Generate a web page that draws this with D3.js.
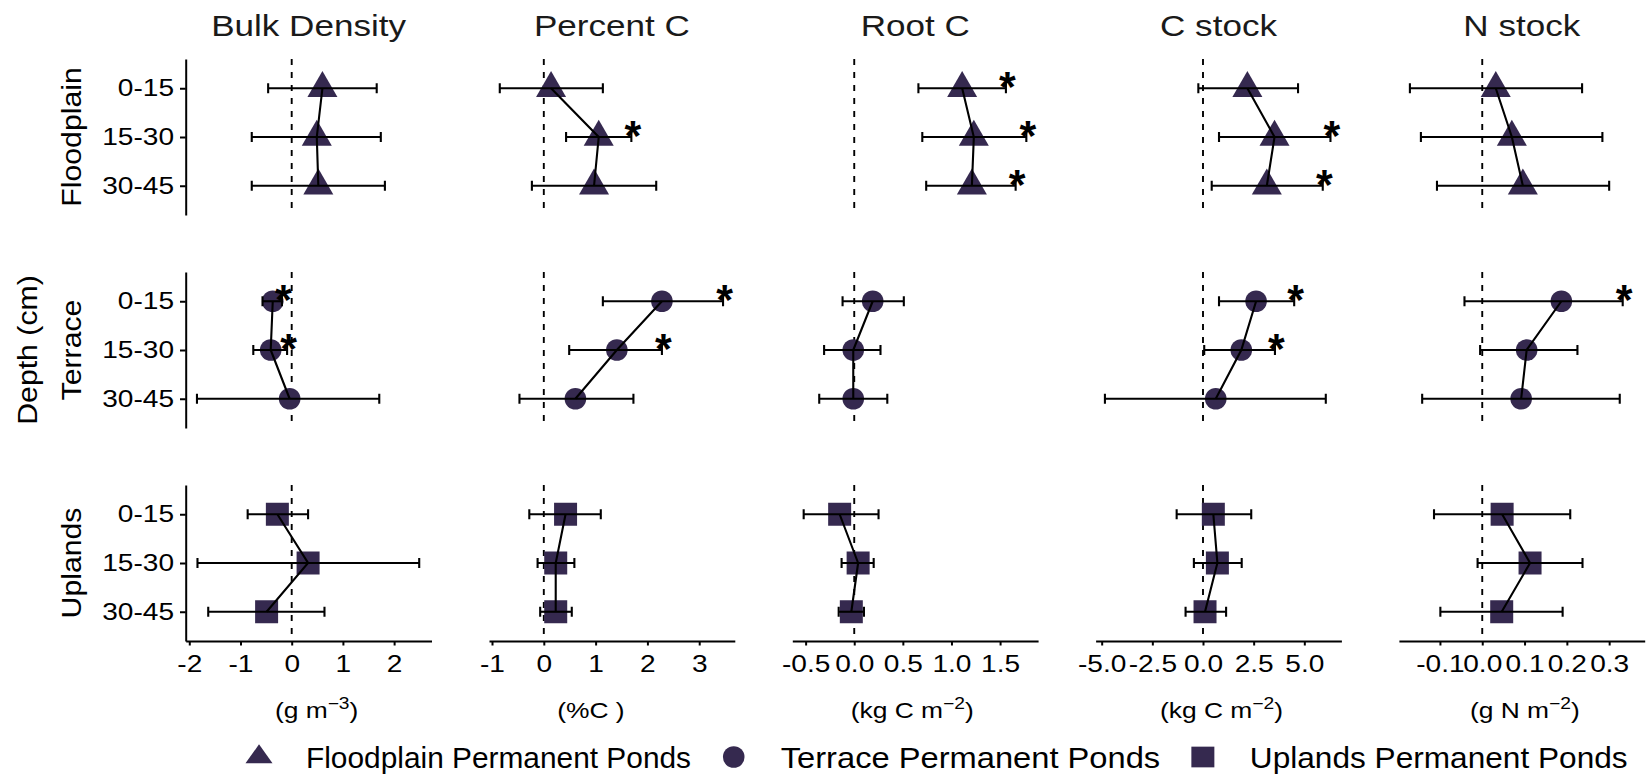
<!DOCTYPE html>
<html>
<head>
<meta charset="utf-8">
<script src="https://cdn.jsdelivr.net/npm/d3@7"></script>
<style>
    body { margin: 0; background: #fff; }
    svg { display: block; }
    text { font-family: "Liberation Sans", Arial, sans-serif; }
</style>
</head>
<body>
<div id="chart"></div>
<script>
// Categories
const depths = ['0-15', '15-30', '30-45'];
const sites = ['Floodplain', 'Terrace', 'Uplands'];
const variables = ['Bulk Density', 'Percent C', 'Root C', 'C stock', 'N stock'];
const legendLabels = ['Floodplain Permanent Ponds', 'Terrace Permanent Ponds', 'Uplands Permanent Ponds'];

// Axis units: [text, superscript, closing]
const units = [
    ['(g m', '\u22123', ')'],
    ['(%C )', '', ''],
    ['(kg C m', '\u22122', ')'],
    ['(kg C m', '\u22122', ')'],
    ['(g N m', '\u22122', ')']
];

// Tick values and axis limits per variable
const xTicks = [
    [-2, -1, 0, 1, 2],
    [-1, 0, 1, 2, 3],
    [-0.5, 0, 0.5, 1, 1.5],
    [-5, -2.5, 0, 2.5, 5],
    [-0.1, 0, 0.1, 0.2, 0.3]
];
const xLimits = [
    [-2.07, 2.73],
    [-1.058, 3.687],
    [-0.637, 1.891],
    [-5.3, 6.83],
    [-0.197, 0.384]
];
const tickDigits = [0, 0, 1, 1, 1];

// Values: site, depth, mean, lower, upper, significant
const bulkDensity = [
    ['Floodplain', '0-15', 0.60, -0.46, 1.66, 0],
    ['Floodplain', '15-30', 0.49, -0.78, 1.74, 0],
    ['Floodplain', '30-45', 0.52, -0.78, 1.82, 0],
    ['Terrace', '0-15', -0.37, -0.57, -0.19, 1],
    ['Terrace', '15-30', -0.41, -0.75, -0.09, 1],
    ['Terrace', '30-45', -0.04, -1.85, 1.71, 0],
    ['Uplands', '0-15', -0.28, -0.86, 0.32, 0],
    ['Uplands', '15-30', 0.32, -1.84, 2.49, 0],
    ['Uplands', '30-45', -0.49, -1.63, 0.64, 0]
];
const percentC = [
    ['Floodplain', '0-15', 0.14, -0.85, 1.14, 0],
    ['Floodplain', '15-30', 1.06, 0.43, 1.69, 1],
    ['Floodplain', '30-45', 0.97, -0.23, 2.17, 0],
    ['Terrace', '0-15', 2.28, 1.14, 3.46, 1],
    ['Terrace', '15-30', 1.41, 0.49, 2.28, 1],
    ['Terrace', '30-45', 0.61, -0.47, 1.73, 0],
    ['Uplands', '0-15', 0.42, -0.28, 1.10, 0],
    ['Uplands', '15-30', 0.23, -0.12, 0.59, 0],
    ['Uplands', '30-45', 0.23, -0.07, 0.54, 0]
];
const rootC = [
    ['Floodplain', '0-15', 1.11, 0.66, 1.56, 1],
    ['Floodplain', '15-30', 1.23, 0.70, 1.77, 1],
    ['Floodplain', '30-45', 1.21, 0.74, 1.66, 1],
    ['Terrace', '0-15', 0.19, -0.12, 0.51, 0],
    ['Terrace', '15-30', -0.01, -0.31, 0.27, 0],
    ['Terrace', '30-45', -0.01, -0.36, 0.34, 0],
    ['Uplands', '0-15', -0.15, -0.52, 0.25, 0],
    ['Uplands', '15-30', 0.04, -0.13, 0.20, 0],
    ['Uplands', '30-45', -0.03, -0.16, 0.10, 0]
];
const cStock = [
    ['Floodplain', '0-15', 2.19, -0.23, 4.69, 0],
    ['Floodplain', '15-30', 3.53, 0.79, 6.29, 1],
    ['Floodplain', '30-45', 3.15, 0.43, 5.91, 1],
    ['Terrace', '0-15', 2.62, 0.79, 4.50, 1],
    ['Terrace', '15-30', 1.89, 0.06, 3.55, 1],
    ['Terrace', '30-45', 0.63, -4.84, 6.06, 0],
    ['Uplands', '0-15', 0.51, -1.30, 2.38, 0],
    ['Uplands', '15-30', 0.71, -0.45, 1.91, 0],
    ['Uplands', '30-45', 0.10, -0.86, 1.14, 0]
];
const nStock = [
    ['Floodplain', '0-15', 0.032, -0.171, 0.236, 0],
    ['Floodplain', '15-30', 0.070, -0.145, 0.284, 0],
    ['Floodplain', '30-45', 0.096, -0.107, 0.300, 0],
    ['Terrace', '0-15', 0.187, -0.042, 0.332, 1],
    ['Terrace', '15-30', 0.105, -0.005, 0.225, 0],
    ['Terrace', '30-45', 0.092, -0.142, 0.325, 0],
    ['Uplands', '0-15', 0.047, -0.114, 0.208, 0],
    ['Uplands', '15-30', 0.113, -0.011, 0.237, 0],
    ['Uplands', '30-45', 0.046, -0.099, 0.190, 0]
];
const datasets = [bulkDensity, percentC, rootC, cStock, nStock];

// Layout
const W = 1652, H = 778;
const fillColor = '#35294f';
const panelW = 245.8, panelH = 156;
const colLeft0 = 185.7, colStep = 303.3;
const rowTops = [59, 272, 485];
const unitShift = [8, -21, -3, 3, 3];   // axis title offset from panel centre
const lineW = 2.1, axisW = 2;

const shapes = [d3.symbolTriangle, d3.symbolCircle, d3.symbolSquare];
const shapeSizes = [390, 366, 529];

const svg = d3.select('#chart').append('svg')
    .attr('width', W)
    .attr('height', H);

const fmtLocale = d3.formatLocale({ decimal: '.', thousands: ',', grouping: [3], currency: ['', ''], minus: '-' });

// Text that is wider than the installed font (the original renders wide)
function addText(parent, x, y, str, size, sx, anchor = 'middle', rot = 0) {
    const g = parent.append('g')
        .attr('transform', `translate(${x},${y}) rotate(${rot}) scale(${sx},1)`);
    return g.append('text')
        .attr('text-anchor', anchor)
        .attr('font-size', size)
        .attr('fill', '#000')
        .text(str);
}

variables.forEach((variable, ci) => {
    const left = colLeft0 + ci * colStep;
    const x = d3.scaleLinear()
        .domain(xLimits[ci])
        .range([left, left + panelW]);

    // Column title
    addText(svg, left + panelW / 2, 36, variable, 29, 1.21).attr('fill', '#1a1a1a');

    sites.forEach((site, ri) => {
        const top = rowTops[ri];
        const y = d3.scalePoint()
            .domain(depths)
            .range([top, top + panelH])
            .padding(0.6);

        const rows = datasets[ci]
            .filter(d => d[0] === site)
            .map(d => ({ depth: d[1], mean: d[2], lo: d[3], hi: d[4], sig: d[5] }));

        const g = svg.append('g').attr('class', 'panel');

        // Zero reference
        g.append('line')
            .attr('x1', x(0)).attr('x2', x(0))
            .attr('y1', top).attr('y2', top + panelH)
            .attr('stroke', '#000')
            .attr('stroke-width', 1.9)
            .attr('stroke-dasharray', '6,7');

        // Points (drawn under bars and path)
        g.selectAll('.pt')
            .data(rows)
            .join('path')
            .attr('class', 'pt')
            .attr('d', d3.symbol(shapes[ri], shapeSizes[ri]))
            .attr('transform', d => `translate(${x(d.mean)},${y(d.depth)})`)
            .attr('fill', fillColor);

        // Connecting path
        g.append('path')
            .datum(rows)
            .attr('d', d3.line().x(d => x(d.mean)).y(d => y(d.depth)))
            .attr('fill', 'none')
            .attr('stroke', '#000')
            .attr('stroke-width', lineW);

        // Error bars
        const bars = g.selectAll('.err')
            .data(rows)
            .join('g')
            .attr('class', 'err')
            .attr('stroke', '#000')
            .attr('stroke-width', lineW);
        bars.append('line')
            .attr('x1', d => x(d.lo)).attr('x2', d => x(d.hi))
            .attr('y1', d => y(d.depth)).attr('y2', d => y(d.depth));
        bars.append('line')
            .attr('x1', d => x(d.lo)).attr('x2', d => x(d.lo))
            .attr('y1', d => y(d.depth) - 5).attr('y2', d => y(d.depth) + 5);
        bars.append('line')
            .attr('x1', d => x(d.hi)).attr('x2', d => x(d.hi))
            .attr('y1', d => y(d.depth) - 5).attr('y2', d => y(d.depth) + 5);

        // Significance stars
        g.selectAll('.star')
            .data(rows.filter(d => d.sig))
            .join('text')
            .attr('class', 'star')
            .attr('x', d => x(d.hi) + 1.5)
            .attr('y', d => y(d.depth) + 13)
            .attr('text-anchor', 'middle')
            .attr('font-size', 43)
            .attr('font-weight', 'bold')
            .text('*');

        // Left axis only on first column
        if (ci === 0) {
            const ya = g.append('g')
                .attr('transform', `translate(${left},0)`)
                .call(d3.axisLeft(y).tickSize(5.7).tickPadding(6).tickSizeOuter(0));
            ya.select('.domain').attr('stroke-width', axisW);
            ya.selectAll('.tick line').attr('stroke-width', axisW);
            ya.selectAll('text')
                .attr('font-size', 24)
                .attr('font-family', '"Liberation Sans", Arial, sans-serif')
                .attr('fill', '#000')
                .attr('x', -10)
                .attr('transform', 'scale(1.17,1)');

            // Site strip label
            addText(svg, 81, top + panelH / 2, site, 27, 1.12, 'middle', -90);
        }

        // Bottom axis only on last row
        if (ri === sites.length - 1) {
            const fmt = fmtLocale.format(`.${tickDigits[ci]}f`);
            const xa = g.append('g')
                .attr('transform', `translate(0,${top + panelH})`)
                .call(d3.axisBottom(x).tickValues(xTicks[ci]).tickFormat(fmt)
                    .tickSize(4.5).tickPadding(9.2).tickSizeOuter(0));
            xa.select('.domain').attr('stroke-width', axisW);
            xa.selectAll('.tick line').attr('stroke-width', axisW);
            xa.selectAll('text')
                .attr('font-size', 24)
                .attr('font-family', '"Liberation Sans", Arial, sans-serif')
                .attr('fill', '#000')
                .attr('transform', 'scale(1.17,1)');
        }
    });

    // Axis unit title
    const u = units[ci];
    const t = addText(svg, left + panelW / 2 + unitShift[ci], 718, '', 22, 1.2);
    t.append('tspan').text(u[0]);
    if (u[1]) {
        t.append('tspan').attr('dy', -9).attr('font-size', 16).text(u[1]);
        t.append('tspan').attr('dy', 9).text(u[2]);
    }
});

// Shared y title
addText(svg, 37, rowTops[1] + panelH / 2, 'Depth (cm)', 27, 1.12, 'middle', -90);

// Legend
const legendY = 757;
const legendScaleX = [0.9, 1, 1];
const legendScaleY = [0.73, 1, 0.9];
const legendStretch = [1.03, 1.127, 1.09];
let keyX = 259;
legendLabels.forEach((lab, i) => {
    svg.append('path')
        .attr('d', d3.symbol(shapes[i], shapeSizes[i]))
        .attr('transform', `translate(${keyX},${legendY}) scale(${legendScaleX[i]},${legendScaleY[i]})`)
        .attr('fill', fillColor);
    const txt = addText(svg, keyX + 47, legendY + 10.5, lab, 29, legendStretch[i], 'start');
    const w = txt.node().getComputedTextLength() * legendStretch[i];
    keyX = keyX + 47 + w + 42.7;
});
</script>
</body>
</html>
